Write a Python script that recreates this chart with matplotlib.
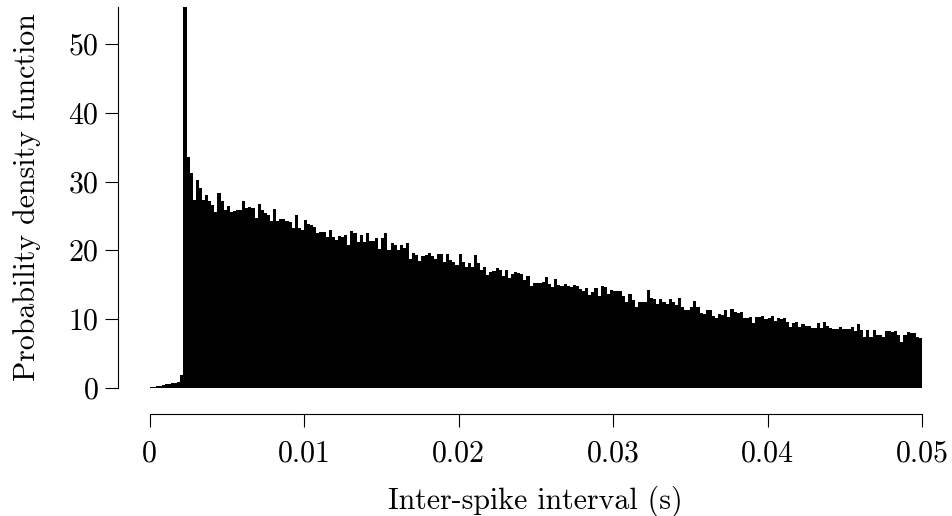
import numpy as np
import matplotlib
matplotlib.use("Agg")
import matplotlib.pyplot as plt

plt.rcParams['font.family'] = ['cmr10', 'DejaVu Serif']
plt.rcParams['mathtext.fontset'] = 'cm'
plt.rcParams['axes.formatter.use_mathtext'] = True

# histogram of inter-spike intervals, bins of 0.2 ms from 0 to 50 ms
bin_width = 0.0002
density_0_10ms = [0.05, 0.1, 0.2, 0.3, 0.4, 0.5, 0.55, 0.65, 0.75, 0.9,
                  1.9, 55.4, 33.6, 31.2, 27.3, 30.2, 29.0, 27.3, 28.1, 27.1,
                  26.6, 25.5, 28.3, 27.1, 25.9, 26.5, 25.5, 25.7, 25.9, 25.9,
                  27.1, 26.2, 26.3, 26.1, 24.7, 26.8, 25.8, 25.4, 25.2, 24.2,
                  26.0, 24.2, 24.6, 24.6, 24.2, 24.1, 23.3, 25.2, 23.2, 22.9]
density_10_20ms = [24.4, 23.8, 23.7, 23.4, 22.5, 22.7, 22.6, 21.9, 23.0, 21.9,
                   21.5, 22.1, 22.0, 22.2, 20.8, 22.8, 22.5, 21.2, 22.2, 21.2,
                   22.5, 21.3, 21.4, 21.8, 20.2, 21.8, 22.5, 20.0, 21.0, 20.8,
                   20.0, 20.7, 20.4, 21.0, 18.8, 19.6, 19.3, 18.4, 19.2, 19.3,
                   19.6, 19.2, 18.7, 19.4, 19.4, 18.3, 19.4, 18.6, 18.3, 17.9]
density_20_30ms = [19.5, 18.3, 17.6, 18.1, 17.6, 19.3, 18.2, 17.1, 17.5, 16.4,
                   16.9, 17.0, 17.4, 17.1, 16.3, 17.2, 16.0, 16.5, 16.9, 16.7,
                   16.6, 15.7, 16.3, 14.8, 15.2, 15.3, 15.2, 15.4, 16.1, 15.1,
                   14.7, 15.8, 14.9, 14.8, 15.1, 14.8, 14.7, 15.0, 14.8, 14.3,
                   14.1, 14.5, 13.5, 13.9, 14.5, 13.4, 14.8, 14.6, 13.7, 14.2]
density_30_40ms = [14.1, 14.0, 14.1, 13.3, 12.5, 13.7, 12.8, 11.7, 12.5, 12.5,
                   12.5, 14.2, 13.1, 12.9, 12.2, 12.9, 12.4, 12.2, 12.9, 12.5,
                   12.0, 13.0, 11.7, 11.3, 11.3, 11.8, 12.6, 11.8, 10.9, 10.7,
                   11.3, 11.3, 10.4, 10.2, 10.7, 10.6, 11.3, 10.3, 11.4, 11.0,
                   10.8, 11.0, 10.2, 10.2, 10.3, 9.4, 10.3, 10.3, 10.5, 10.0]
density_40_50ms = [10.2, 10.4, 9.7, 10.1, 10.0, 10.1, 9.5, 8.9, 9.4, 9.5,
                   8.9, 9.2, 9.0, 9.0, 8.7, 8.7, 9.4, 8.7, 9.5, 9.0,
                   8.7, 8.6, 8.6, 8.9, 8.6, 8.5, 8.5, 8.9, 8.2, 9.2,
                   8.4, 7.4, 8.4, 7.4, 8.4, 7.6, 7.6, 7.4, 8.2, 8.2,
                   8.1, 8.3, 7.7, 6.6, 7.7, 8.1, 7.9, 8.0, 7.4, 7.2]

density = np.array(density_0_10ms + density_10_20ms + density_20_30ms
                   + density_30_40ms + density_40_50ms)
bin_left = np.arange(len(density)) * bin_width

x_ticks = [0, 0.01, 0.02, 0.03, 0.04, 0.05]
x_tick_labels = ['0', '0.01', '0.02', '0.03', '0.04', '0.05']
y_ticks = [0, 10, 20, 30, 40, 50]

fig = plt.figure(figsize=(9.52, 5.16), dpi=100)
ax = fig.add_axes([149.5 / 952, 1 - 387.7 / 516, (922 - 149.5) / 952, (387.7 - 7) / 516])

ax.bar(bin_left, density, width=bin_width, align='edge', color='black',
       edgecolor='none', linewidth=0)

ax.set_xlim(0, 0.05)
ax.set_ylim(0, density.max())

for side in ['top', 'right']:
    ax.spines[side].set_visible(False)
ax.spines['left'].set_position(('outward', 22.7))
ax.spines['bottom'].set_position(('outward', 18.7))
ax.spines['left'].set_bounds(0, density.max())
ax.spines['bottom'].set_bounds(0, 0.05)
for side in ['left', 'bottom']:
    ax.spines[side].set_linewidth(0.8)

ax.set_xticks(x_ticks)
ax.set_xticklabels(x_tick_labels)
ax.set_yticks(y_ticks)
ax.tick_params(axis='both', length=9.7, width=0.8, labelsize=21.5)
ax.tick_params(axis='x', pad=9)
ax.tick_params(axis='y', pad=4)

ax.set_xlabel('Inter-spike interval (s)', fontsize=21.5, labelpad=13)
ax.set_ylabel('Probability density function', fontsize=21.5, labelpad=20)

fig.savefig('out.png', dpi=100)
